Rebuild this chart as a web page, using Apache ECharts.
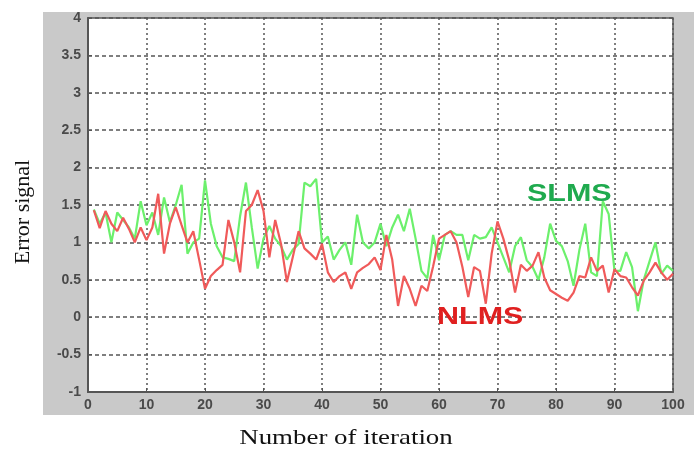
<!DOCTYPE html>
<html>
<head>
<meta charset="utf-8">
<script src="https://cdn.jsdelivr.net/npm/echarts@6/dist/echarts.min.js"></script>
<style>
  html, body { margin: 0; padding: 0; background: #fff; }
  #chart { width: 694px; height: 452px; }
</style>
</head>
<body>
<div id="chart"></div>
<script>
// iteration index 1..100
const iterations = Array.from({ length: 100 }, (_, i) => i + 1)

const slms = [
  1.44, 1.25, 1.4, 1.0, 1.4, 1.3, 1.2, 1.05, 1.55, 1.23,
  1.4, 1.1, 1.6, 1.27, 1.5, 1.77, 0.85, 1.0, 1.05, 1.83,
  1.25, 0.95, 0.8, 0.78, 0.75, 1.35, 1.8, 1.2, 0.65, 1.05,
  1.22, 1.05, 0.95, 0.77, 0.9, 0.98, 1.8, 1.75, 1.85, 1.0,
  1.08, 0.77, 0.9, 1.0, 0.7, 1.37, 1.0, 0.92, 1.0, 1.25,
  0.95, 1.2, 1.37, 1.15, 1.45, 1.05, 0.62, 0.52, 1.1, 0.76,
  1.1, 1.15, 1.1, 1.1, 0.76, 1.1, 1.05, 1.07, 1.2, 1.0,
  0.8, 0.6, 0.95, 1.07, 0.76, 0.67, 0.5, 0.8, 1.25, 1.02,
  0.95, 0.75, 0.42, 0.9, 1.25, 0.6, 0.55, 1.55, 1.38, 0.62,
  0.62, 0.87, 0.67, 0.08, 0.5, 0.75, 1.0, 0.58, 0.69, 0.62
]

const nlms = [
  1.43, 1.19, 1.42, 1.25, 1.15, 1.33, 1.18, 1.0, 1.2, 1.03,
  1.2, 1.65, 0.85, 1.25, 1.47, 1.23, 1.0, 1.15, 0.77, 0.38,
  0.55, 0.63, 0.7, 1.3, 1.0, 0.6, 1.42, 1.5, 1.7, 1.42,
  0.8, 1.3, 0.98, 0.47, 0.8, 1.15, 0.92, 0.85, 0.77, 0.98,
  0.6, 0.47, 0.55, 0.6, 0.38, 0.6, 0.66, 0.71, 0.8, 0.63,
  1.1, 0.77, 0.15, 0.55, 0.38, 0.15, 0.42, 0.35, 0.68, 1.05,
  1.1, 1.15, 1.0, 0.67, 0.27, 0.67, 0.62, 0.18, 0.85, 1.28,
  1.05, 0.76, 0.33, 0.7, 0.62, 0.69, 0.87, 0.53, 0.36, 0.31,
  0.26, 0.22, 0.33, 0.55, 0.53, 0.8, 0.62, 0.69, 0.33, 0.64,
  0.55, 0.53, 0.4, 0.29, 0.49, 0.6, 0.73, 0.6, 0.5, 0.58
]

const chart = echarts.init(document.getElementById('chart'))

const tickFont = {
  color: '#4a4a4a',
  fontSize: 14,
  fontWeight: 'bold',
  fontFamily: 'Liberation Sans, Arial, sans-serif'
}

const option = {
  backgroundColor: '#fff',
  animation: false,
  graphic: [
    {
      type: 'rect',
      z: -10,
      shape: { x: 43, y: 12, width: 651, height: 403 },
      style: { fill: '#c9c9c9' }
    },
    {
      type: 'text',
      x: 346,
      y: 438,
      scaleX: 1.28,
      style: {
        text: 'Number of iteration',
        fill: '#111',
        align: 'center',
        verticalAlign: 'middle',
        font: '21px "Liberation Serif", "Times New Roman", serif'
      }
    },
    {
      type: 'text',
      x: 23,
      y: 212,
      rotation: Math.PI / 2,
      style: {
        text: 'Error signal',
        fill: '#111',
        align: 'center',
        verticalAlign: 'middle',
        font: '22px "Liberation Serif", "Times New Roman", serif'
      }
    },
    {
      type: 'text',
      x: 527,
      y: 182,
      z: 20,
      scaleX: 1.27,
      style: {
        text: 'SLMS',
        fill: '#1faa4e',
        font: 'bold 24px "Liberation Sans", Arial, sans-serif'
      }
    },
    {
      type: 'text',
      x: 437,
      y: 305,
      z: 20,
      scaleX: 1.27,
      style: {
        text: 'NLMS',
        fill: '#e02020',
        font: 'bold 24px "Liberation Sans", Arial, sans-serif'
      }
    }
  ],
  grid: {
    left: 88,
    top: 18,
    right: 21,
    bottom: 60,
    show: true,
    backgroundColor: '#fff',
    borderColor: '#555',
    borderWidth: 1.5
  },
  xAxis: {
    type: 'value',
    min: 0,
    max: 100,
    interval: 10,
    axisLine: { show: true, onZero: false, lineStyle: { color: '#555', width: 2 } },
    axisTick: { show: true, inside: true, length: 4, lineStyle: { color: '#555' } },
    axisLabel: { ...tickFont, margin: 6 },
    splitLine: { show: true, lineStyle: { color: '#555', type: [2, 3], width: 1.5 } }
  },
  yAxis: {
    type: 'value',
    min: -1,
    max: 4,
    interval: 0.5,
    axisLine: { show: true, lineStyle: { color: '#555', width: 2 } },
    axisTick: { show: true, inside: true, length: 4, lineStyle: { color: '#555' } },
    axisLabel: { ...tickFont, margin: 7 },
    splitLine: { show: true, lineStyle: { color: '#555', type: [4, 3], width: 1.5 } }
  },
  series: [
    {
      name: 'SLMS',
      type: 'line',
      data: iterations.map((x, i) => [x, slms[i]]),
      showSymbol: false,
      lineStyle: { color: '#6cf06c', width: 2.2 },
      itemStyle: { color: '#6cf06c' },
      z: 3
    },
    {
      name: 'NLMS',
      type: 'line',
      data: iterations.map((x, i) => [x, nlms[i]]),
      showSymbol: false,
      lineStyle: { color: '#f05a5a', width: 2.2 },
      itemStyle: { color: '#f05a5a' },
      z: 4
    }
  ]
}

chart.setOption(option)
</script>
</body>
</html>
